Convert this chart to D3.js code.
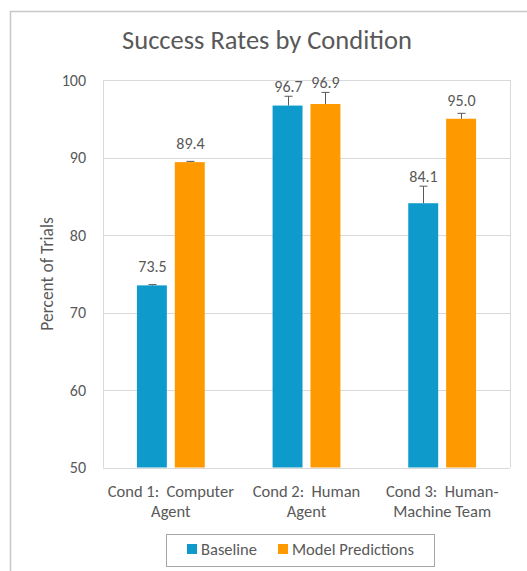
<!DOCTYPE html>
<html>
<head>
<meta charset="utf-8">
<script src="https://cdn.jsdelivr.net/npm/d3@7"></script>
<style>
  html, body { margin: 0; padding: 0; background: #fff; }
  svg { display: block; }
  text { font-family: Carlito, Lato, "Open Sans", sans-serif; fill: #595959; }
</style>
</head>
<body>
<svg id="chart" width="527" height="571"></svg>
<script>
// Chart data
const categories = [["Cond 1:  Computer", "Agent"], ["Cond 2:  Human", "Agent"], ["Cond 3:  Human-", "Machine Team"]];
const seriesNames = ["Baseline", "Model Predictions"];
const baseline = [73.5, 96.7, 84.1];
const modelPredictions = [89.4, 96.9, 95.0];
const baselineErr = [0.1, 1.2, 2.2];
const modelErr = [0.1, 1.5, 0.7];
const yTicks = [50, 60, 70, 80, 90, 100];
const colors = ["#0E9BCC", "#FF9900"];

const series = [
  { name: seriesNames[0], values: baseline, err: baselineErr },
  { name: seriesNames[1], values: modelPredictions, err: modelErr }
];

const svg = d3.select("#chart");

// Outer chart frame (only left and top edges fall inside the view)
svg.append("path")
  .attr("d", "M10.5,571 V11.5 H527")
  .attr("fill", "none")
  .attr("stroke", "#c8c8c8")
  .attr("stroke-width", 1.5);

const plot = { left: 103, right: 510, top: 80, bottom: 467.5 };

const y = d3.scaleLinear().domain([50, 100]).range([plot.bottom, plot.top]);
const catIdx = categories.map((c, i) => i);
const x0 = d3.scaleBand().domain(catIdx).range([plot.left, plot.right])
  .paddingInner(0.5).paddingOuter(0.25);
const x1 = d3.scaleBand().domain(seriesNames).range([0, x0.bandwidth()]).paddingInner(0.21);

// Title
svg.append("text")
  .attr("x", 267).attr("y", 49)
  .attr("text-anchor", "middle")
  .style("font-size", "26.5px")
  .text("Success Rates by Condition");

// Gridlines
svg.append("g").selectAll("line").data(yTicks).join("line")
  .attr("x1", plot.left).attr("x2", plot.right)
  .attr("y1", d => Math.round(y(d)) + 0.5).attr("y2", d => Math.round(y(d)) + 0.5)
  .attr("stroke", "#d9d9d9").attr("stroke-width", 1);

// Plot area frame sides
svg.append("line").attr("x1", plot.left + 0.5).attr("x2", plot.left + 0.5)
  .attr("y1", plot.top).attr("y2", plot.bottom).attr("stroke", "#d9d9d9");
svg.append("line").attr("x1", plot.right + 0.5).attr("x2", plot.right + 0.5)
  .attr("y1", plot.top).attr("y2", plot.bottom).attr("stroke", "#d9d9d9");

// Y axis
const yAxis = d3.axisLeft(y).tickValues(yTicks).tickSize(0).tickPadding(17).tickFormat(d3.format("d"));
const gy = svg.append("g").attr("transform", `translate(${plot.left},0)`).call(yAxis);
gy.select(".domain").remove();
gy.selectAll("text").style("font-size", "16px").attr("fill", "#595959")
  .style("font-family", "Carlito, Lato, sans-serif");

// Y axis title
svg.append("text")
  .attr("transform", "translate(53,274) rotate(-90)")
  .attr("text-anchor", "middle")
  .style("font-size", "17.5px")
  .text("Percent of Trials");

// Bars
const groups = svg.append("g").selectAll("g").data(series).join("g")
  .attr("fill", (d, i) => colors[i]);

groups.selectAll("rect")
  .data(s => s.values.map((v, i) => ({ s: s.name, i, v, e: s.err[i] })))
  .join("rect")
  .attr("x", d => x0(d.i) + x1(d.s))
  .attr("width", x1.bandwidth())
  .attr("y", d => y(d.v))
  .attr("height", d => y(50) - y(d.v));

// Error bars and value labels
const allBars = series.flatMap(s => s.values.map((v, i) => ({ s: s.name, i, v, e: s.err[i] })));
const eb = svg.append("g").attr("stroke", "#595959").attr("stroke-width", 1);
allBars.forEach(d => {
  const cx = Math.round(x0(d.i) + x1(d.s) + x1.bandwidth() / 2) + 0.5;
  const yTop = y(d.v + d.e);
  eb.append("line").attr("x1", cx).attr("x2", cx).attr("y1", y(d.v)).attr("y2", yTop);
  eb.append("line").attr("x1", cx - 4).attr("x2", cx + 4).attr("y1", yTop).attr("y2", yTop);

  // label baseline sits above the bar, lifted clear of a tall error bar
  const base = Math.min(y(d.v) - 13, yTop - 4.5);
  svg.append("text")
    .attr("x", cx).attr("y", base)
    .attr("text-anchor", "middle")
    .style("font-size", "16px")
    .text(d3.format(".1f")(d.v));
});

// Category labels
const xl = svg.append("g").selectAll("text").data(categories).join("text")
  .attr("x", (d, i) => x0(i) + x0.bandwidth() / 2)
  .attr("y", 497)
  .attr("text-anchor", "middle")
  .style("font-size", "16.5px");
xl.selectAll("tspan").data(d => d).join("tspan")
  .attr("x", function () { return d3.select(this.parentNode).attr("x"); })
  .attr("dy", (d, j) => j === 0 ? 0 : 20)
  .style("white-space", "pre")
  .text(d => d);

// Legend
const lg = svg.append("g");
lg.append("rect").attr("x", 166.5).attr("y", 534.5).attr("width", 268).attr("height", 32)
  .attr("fill", "#fff").attr("stroke", "#a6a6a6");
const legendX = [187, 278];
seriesNames.forEach((n, i) => {
  lg.append("rect").attr("x", legendX[i]).attr("y", 544).attr("width", 10).attr("height", 10)
    .attr("fill", colors[i]);
  lg.append("text").attr("x", legendX[i] + 14).attr("y", 555)
    .style("font-size", "16.5px").text(n);
});
</script>
</body>
</html>
